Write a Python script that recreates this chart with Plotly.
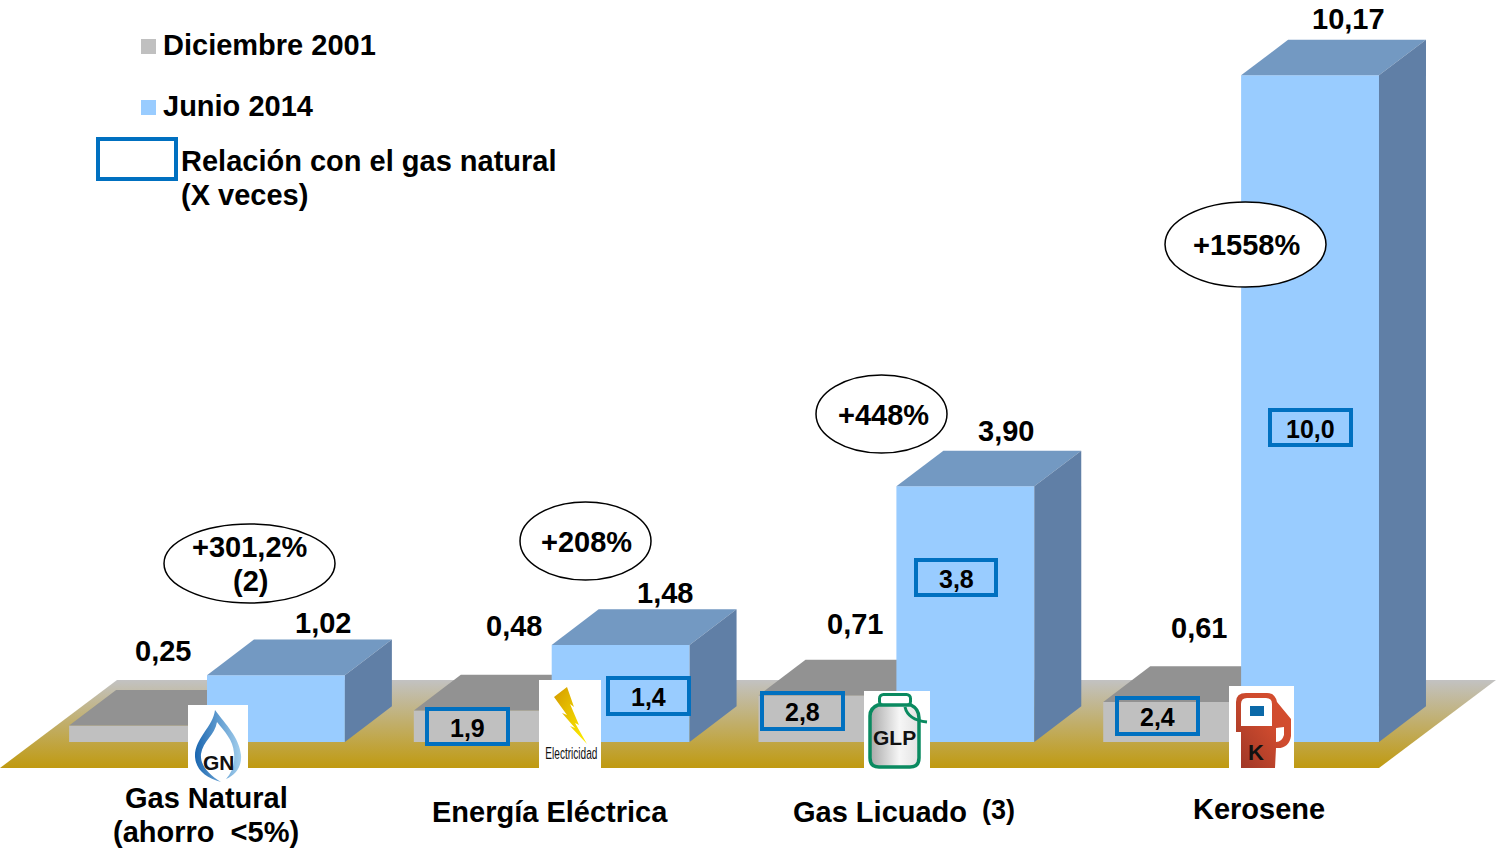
import base64
import plotly.graph_objects as go

# ---------- data ----------
categories = ["Gas Natural", "Energía Eléctrica", "Gas Licuado", "Kerosene"]
series_2001 = [0.25, 0.48, 0.71, 0.61]
series_2014 = [1.02, 1.48, 3.90, 10.17]
labels_2001 = ["0,25", "0,48", "0,71", "0,61"]
labels_2014 = ["1,02", "1,48", "3,90", "10,17"]
ratio_labels = ["1,9", "1,4", "2,8", "3,8", "2,4", "10,0"]
growth_labels = ["+301,2%<br>(2)", "+208%", "+448%", "+1558%"]
legend_names = ["Diciembre 2001", "Junio 2014"]
legend_box_text = "Relación con el gas natural"
legend_box_text2 = "(X veces)"

# ---------- layout constants ----------
W, H = 1498, 850
PX_PER_UNIT_X = 344.7
PX_PER_UNIT_Y = 65.55
ORIGIN_PX = (207, 742)
DEPTH_X = 47 / PX_PER_UNIT_X
DEPTH_Y = 35.7 / PX_PER_UNIT_Y
BAR_W = 0.4
X_RANGE = [-ORIGIN_PX[0] / PX_PER_UNIT_X, (W - ORIGIN_PX[0]) / PX_PER_UNIT_X]
Y_RANGE = [(ORIGIN_PX[1] - H) / PX_PER_UNIT_Y, ORIGIN_PX[1] / PX_PER_UNIT_Y]

C_GRAY, C_GRAY_TOP = "#c0c0c0", "#929292"
C_BLUE, C_BLUE_TOP, C_BLUE_SIDE = "#99ccff", "#7399c2", "#607fa6"
C_BOX = "#0070c0"
FONT = "Liberation Sans"
FS = 29


def px(x):
    return x / W


def py(y):
    return 1 - y / H


def xd(x):
    return (x - ORIGIN_PX[0]) / PX_PER_UNIT_X


def yd(y):
    return (ORIGIN_PX[1] - y) / PX_PER_UNIT_Y


fig = go.Figure()

# floor
floor_px = [(0, 768), (1379, 768), (1496, 680), (117, 680), (0, 768)]
fig.add_trace(go.Scatter(
    x=[xd(p[0]) for p in floor_px], y=[yd(p[1]) for p in floor_px],
    mode="lines", line=dict(width=0), fill="toself",
    fillgradient=dict(type="vertical",
                      colorscale=[[0, "#c09a10"], [1, "#c2c2c2"]]),
    hoverinfo="skip", showlegend=False, xaxis="x", yaxis="y"))


def add_series(values, centers, front, top, side, name, xa, ya):
    fig.add_trace(go.Bar(x=centers, y=values, width=BAR_W, name=name,
                         marker=dict(color=front, line=dict(width=0)),
                         showlegend=False, xaxis=xa, yaxis=ya))
    for c, v in zip(centers, values):
        l, r = c - BAR_W / 2, c + BAR_W / 2
        fig.add_trace(go.Scatter(
            x=[l, l + DEPTH_X, r + DEPTH_X, r, l],
            y=[v, v + DEPTH_Y, v + DEPTH_Y, v, v],
            mode="lines", line=dict(width=0), fill="toself", fillcolor=top,
            hoverinfo="skip", showlegend=False, xaxis=xa, yaxis=ya))
        fig.add_trace(go.Scatter(
            x=[r, r + DEPTH_X, r + DEPTH_X, r, r],
            y=[v, v + DEPTH_Y, DEPTH_Y, 0, v],
            mode="lines", line=dict(width=0), fill="toself", fillcolor=side,
            hoverinfo="skip", showlegend=False, xaxis=xa, yaxis=ya))


idx = list(range(len(categories)))
add_series(series_2001, [i - BAR_W / 2 for i in idx], C_GRAY, C_GRAY_TOP, C_GRAY_TOP,
           legend_names[0], "x2", "y2")
add_series(series_2014, [i + BAR_W / 2 for i in idx], C_BLUE, C_BLUE_TOP, C_BLUE_SIDE,
           legend_names[1], "x3", "y3")

shapes, annotations = [], []


def text(x, y, t, size=FS, bold=True, anchor="center", color="#000", family=FONT):
    annotations.append(dict(
        xref="paper", yref="paper", x=px(x), y=py(y), text=f"<b>{t}</b>" if bold else t,
        showarrow=False, xanchor=anchor, yanchor="middle", align="center",
        font=dict(family=family, size=size, color=color)))


def rect(x0, y0, x1, y1, fill=None, line=None, lw=0):
    shapes.append(dict(
        type="rect", xref="paper", yref="paper", x0=px(x0), x1=px(x1), y0=py(y0), y1=py(y1),
        fillcolor=fill if fill else "rgba(0,0,0,0)",
        line=dict(color=line if line else "rgba(0,0,0,0)", width=lw), layer="above"))


# value labels (placed from the data, offset in pixels)
shift_2001 = [(25, 75), (31, 85), (28, 71), (27, 74)]
shift_2014 = [(47, 52), (44, 52), (41, 55), (38, 56)]
for i in idx:
    for val, lab, c, sh, ax, ay in (
        (series_2001[i], labels_2001[i], i - BAR_W / 2, shift_2001[i], "x2", "y2"),
        (series_2014[i], labels_2014[i], i + BAR_W / 2, shift_2014[i], "x3", "y3"),
    ):
        annotations.append(dict(
            x=c, y=val, xref=ax, yref=ay, text=f"<b>{lab}</b>", showarrow=False,
            xshift=sh[0], yshift=sh[1], xanchor="center", yanchor="middle",
            font=dict(family=FONT, size=FS, color="#000")))

# ratio boxes
ratio_boxes = [(427, 709, 508, 744), (608, 678, 689, 714), (762, 693, 843, 729),
               (916, 560, 996, 595), (1117, 698, 1198, 734), (1270, 410, 1351, 445)]
for lab, (x0, y0, x1, y1) in zip(ratio_labels, ratio_boxes):
    rect(x0, y0, x1, y1, None, C_BOX, 4)
    text((x0 + x1) / 2, (y0 + y1) / 2 + 1, lab, size=25)

# growth ellipses
ellipses = [(164, 524, 335, 603), (520, 502, 651, 580), (816, 375, 947, 453), (1165, 202, 1326, 287)]
for (x0, y0, x1, y1) in ellipses:
    shapes.append(dict(type="circle", xref="paper", yref="paper",
                       x0=px(x0), x1=px(x1), y0=py(y0), y1=py(y1),
                       fillcolor="#fff", line=dict(color="#000", width=1.5), layer="above"))
text(250, 547, growth_labels[0].split("<br>")[0])
text(250, 581, growth_labels[0].split("<br>")[1])
text(586, 542, growth_labels[1])
text(883, 415, growth_labels[2])
text(1246, 245, growth_labels[3])

# legend
rect(141, 39, 156, 54, C_GRAY)
rect(141, 100, 156, 115, C_BLUE)
rect(98, 139, 176, 179, None, C_BOX, 4)
text(161, 45, legend_names[0], anchor="left")
text(161, 106, legend_names[1], anchor="left")
text(179, 161, legend_box_text, anchor="left")
text(179, 195, legend_box_text2, anchor="left")

# category labels
text(206, 798, categories[0])
text(206, 832, "(ahorro  &lt;5%)")
text(550, 812, categories[1])
text(880, 812, categories[2])
text(998, 810, "(3)", size=27)
text(1259, 809, categories[3])

# icons
SVG_GN = """<svg xmlns='http://www.w3.org/2000/svg' width='60' height='78' viewBox='0 0 60 78'>
<defs><linearGradient id='g' x1='0' x2='1' y1='0' y2='0'><stop offset='0' stop-color='#1a66b0'/><stop offset='1' stop-color='#a5d0ee'/></linearGradient></defs>
<rect width='60' height='78' fill='#fff'/>
<path fill='url(#g)' d='M27 5 C25 22 6 34 7 52 C8 65 18 73 33 77 C20 69 12 60 13 49 C15 36 27 30 29 17 C37 27 45 35 46 48 C47 58 45 66 38 74 C48 70 54 61 53 50 C51 32 38 20 27 5 Z'/>
</svg>"""
SVG_EL = """<svg xmlns='http://www.w3.org/2000/svg' width='62' height='89' viewBox='0 0 62 89'>
<defs><linearGradient id='g' x1='0' x2='1' y1='0' y2='1'><stop offset='0' stop-color='#d49a00'/><stop offset='1' stop-color='#fff200'/></linearGradient></defs>
<rect width='62' height='89' fill='#fff'/>
<path fill='url(#g)' d='M15 17 L28 7 L35 27 L31 24 L40 45 L36 43 L48 64 L31 46 L36 48 L23 33 L28 35 Z'/>
</svg>"""
SVG_GLP = """<svg xmlns='http://www.w3.org/2000/svg' width='66' height='78' viewBox='0 0 66 78'>
<defs><linearGradient id='g' x1='0' x2='1' y1='0' y2='0'><stop offset='0' stop-color='#a8a8a8'/><stop offset='0.6' stop-color='#f6f6f6'/><stop offset='1' stop-color='#e2e2e2'/></linearGradient></defs>
<rect width='66' height='78' fill='#fff'/>
<rect x='15.5' y='3.5' width='31' height='11' rx='4' fill='none' stroke='#0a8a60' stroke-width='3'/>
<path d='M14 14 L47 14 Q55 18 55 27 L55 67 Q55 76 46 76 L15 76 Q6 76 6 67 L6 25 Q6 17 14 14 Z' fill='url(#g)' stroke='#0a8a60' stroke-width='3.5'/>
<path d='M41 16 Q44 29 63 31' fill='none' stroke='#0a8a60' stroke-width='3'/>
</svg>"""
SVG_K = """<svg xmlns='http://www.w3.org/2000/svg' width='65' height='83' viewBox='0 0 65 83'>
<defs><linearGradient id='g' x1='0' x2='1' y1='1' y2='0'><stop offset='0' stop-color='#9c3626'/><stop offset='0.6' stop-color='#cf4b2e'/><stop offset='1' stop-color='#d64e2e'/></linearGradient></defs>
<rect width='65' height='83' fill='#fff'/>
<path fill='url(#g)' d='M7 46 L7 16 Q7 7 17 7 L38 7 Q46 7 48 16 L62 33 L62 50 Q60 63 47 62 L46 82 L12 82 L12 46 Z'/>
<path fill='#fff' d='M12 40 L12 18 Q12 12 18 12 L37 12 Q43 12 43 18 L43 40 Z'/>
<rect x='21' y='20' width='14' height='10' fill='#0b69a8'/>
<path fill='#fff' d='M47 42 L55 41 L55 49 Q53 56 47 56 Z'/>
</svg>"""


def data_uri(svg):
    return "data:image/svg+xml;base64," + base64.b64encode(svg.encode()).decode()


icons = [(SVG_GN, 188, 705, 60, 78), (SVG_EL, 539, 680, 62, 89),
         (SVG_GLP, 864, 691, 66, 78), (SVG_K, 1229, 686, 65, 83)]
images = [dict(source=data_uri(s), xref="paper", yref="paper", x=px(x), y=py(y),
               sizex=w / W, sizey=h / H, xanchor="left", yanchor="top",
               sizing="stretch", layer="above") for s, x, y, w, h in icons]

text(219, 762, "GN", size=21, bold=True, color="#111")
text(571, 753, "Electricidad", size=16, bold=False, color="#111")
text(894.5, 737, "GLP", size=21, bold=True, color="#111")
text(1256, 752, "K", size=22, bold=True, color="#111")

axis_off = dict(visible=False, showgrid=False, zeroline=False, fixedrange=True)
fig.update_layout(
    width=W, height=H, margin=dict(l=0, r=0, t=0, b=0),
    paper_bgcolor="#fff", plot_bgcolor="#fff", showlegend=False,
    barmode="overlay",
    xaxis=dict(range=X_RANGE, **axis_off),
    yaxis=dict(range=Y_RANGE, **axis_off),
    xaxis2=dict(range=X_RANGE, overlaying="x", **axis_off),
    yaxis2=dict(range=Y_RANGE, overlaying="y", **axis_off),
    xaxis3=dict(range=X_RANGE, overlaying="x", **axis_off),
    yaxis3=dict(range=Y_RANGE, overlaying="y", **axis_off),
    shapes=shapes, annotations=annotations, images=images,
)

POST = """
document.body.style.margin='0';
document.documentElement.style.overflow='hidden';
function squeeze(){
  document.querySelectorAll('text.annotation-text').forEach(function(t){
    if(t.textContent==='Electricidad'){
      t.setAttribute('textLength','52');
      t.setAttribute('lengthAdjust','spacingAndGlyphs');
    }
  });
}
squeeze();
setTimeout(squeeze,50);
"""
fig.write_html("out.html", config={"displayModeBar": False}, post_script=POST)
